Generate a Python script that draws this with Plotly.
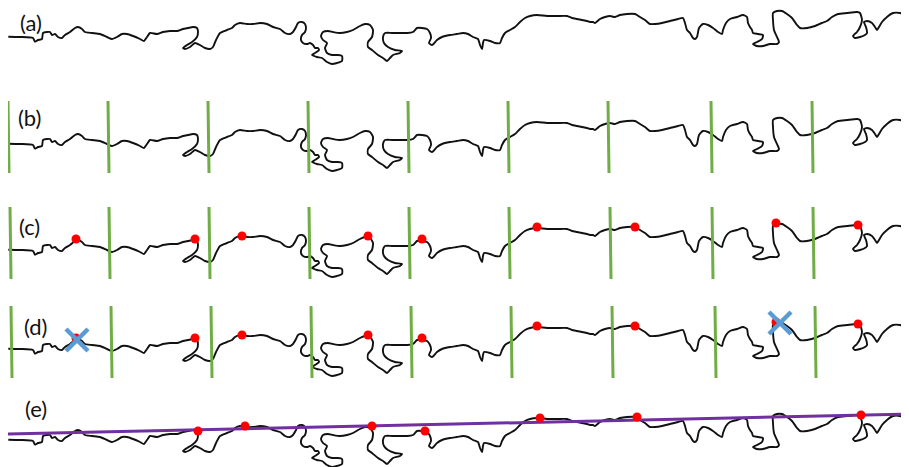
import plotly.graph_objects as go

# profile curve, traced in the coordinates of row (a) (pixels, y downwards)
curve_x = [8.3,20,33,35,38,42,43,47,50,52,55,58,62,65,70,75,78,82,85,92,100,107,112,117,122,127,133,140,144,147,150,157,163,170,177,183,188,193,197,198,197,192,187,183,185,190,195,200,205,210,213,216,220,227,232,235,240,247,253,260,267,273,280,285,290,293,296,298,302,305,306,305,302,301,303,307,310,313,315,318,319,315,312,317,322,327,332,337,342,342,338,332,327,325,327,323,321,323,328,333,340,347,353,360,365,370,373,372,368,368,372,378,383,387,390,393,400,402,395,388,384,383,385,392,400,407,413,417,422,427,430,431,429,432,437,442,450,457,463,468,473,478,480,482,483,484,490,495,500,502,505,510,515,520,525,530,537,547,557,567,572,577,582,587,590,593,595,600,605,610,615,620,627,635,640,645,650,655,662,670,678,683,685,687,690,693,695,697,699,703,708,713,718,722,723,726,730,737,743,747,748,750,752,753,758,763,762,757,753,757,763,770,777,779,777,774,773,773,777,782,787,792,797,800,807,815,822,827,832,838,847,857,860,862,860,857,853,855,860,865,867,866,864,867,872,875,877,879,882,887,893,900,905,909]
curve_y = [36.7,37,38,41.7,40,39,33,32,32,35,34,37,38,35,32,28,27,29,32,33,34,37,39,37,34,34,36,39,41,37,33,34,32,31,31,29,28,27,28,32,37,42,45,48,49,47,43,45,48,49,47,40,33,30,28,25,23,24,24,23,24,27,29,33,34,32,27,23,22,24,28,32,35,40,43,44,43,45,48,48,50,53,55,57,58,62,64,63,61,56,55,55,53,48,43,40,36,32,31,32,33,32,30,26,24,25,30,37,42,47,50,55,58,61,58,55,53,51,50,47,43,37,33,33,33,33,32,28,28,29,33,38,43,45,40,37,35,34,33,34,37,39,45,49,43,40,41,43,43,38,33,30,27,22,18,16,15,16,16,16,18,19,20,21,22,22,23,19,17,16,17,15,14,14,17,20,24,24,23,21,19,18,23,30,33,38,39,37,28,24,25,28,32,34,30,23,19,17,15,17,23,27,30,33,34,35,39,42,44,46,46,44,44,42,37,30,20,13,11,11,14,18,25,28,28,26,23,21,17,14,13,12,13,20,27,32,36,38,37,35,33,27,22,21,23,27,30,27,22,17,13,13,15,15]

row_labels = ["(a)", "(b)", "(c)", "(d)", "(e)"]
row_offsets = [0, 107, 213, 312, 403]
label_x = [18, 16, 17, 22, 23]
label_y = [22, 117, 226, 326, 408]

# green cut lines for rows (b), (c), (d)
green_x = {
    1: [8, 108, 208, 308, 408, 508, 608, 711, 812],
    2: [10, 109, 209, 309, 409, 509, 610, 712, 813],
    3: [11, 111, 211, 311, 411, 511, 612, 715, 815],
}

# local peaks (row-(a) coordinates)
peak_x = [76, 195, 242, 368, 422, 537, 635, 776, 858]
peak_y = [26, 26, 23, 23, 26, 14, 14, 10, 12]
rejected_x = [77, 780]
rejected_y = [28, 11]
kept_x = [198, 245, 372, 425, 540, 637, 861]
kept_y = [28, 23, 23, 28, 15, 14, 12]

# fitted line in row (e)
fit_x = [8, 909]
fit_y = [31, 11]

fig = go.Figure()

for i, off in enumerate(row_offsets):
    fig.add_trace(go.Scatter(x=curve_x, y=[v + off for v in curve_y], mode="lines",
                             line=dict(color="#111111", width=1.9, shape="spline", smoothing=0.6),
                             hoverinfo="skip", showlegend=False))

for row, xs in green_x.items():
    off = row_offsets[row]
    gx, gy = [], []
    for x in xs:
        gx += [x, x + 1, None]
        gy += [off - 6, off + 66, None]
    fig.add_trace(go.Scatter(x=gx, y=gy, mode="lines", line=dict(color="#70AD47", width=3),
                             hoverinfo="skip", showlegend=False))

# row (c) peaks
fig.add_trace(go.Scatter(x=peak_x, y=[v + row_offsets[2] for v in peak_y], mode="markers",
                         marker=dict(color="#FF0000", size=9), showlegend=False, hoverinfo="skip"))
# row (d) peaks + rejected crosses
fig.add_trace(go.Scatter(x=peak_x, y=[v + row_offsets[3] for v in peak_y], mode="markers",
                         marker=dict(color="#FF0000", size=9), showlegend=False, hoverinfo="skip"))
fig.add_trace(go.Scatter(x=rejected_x, y=[v + row_offsets[3] for v in rejected_y], mode="markers",
                         marker=dict(symbol="x-thin", size=22, line=dict(color="#5B9BD5", width=4.5)),
                         showlegend=False, hoverinfo="skip"))
# row (e) fit line + kept peaks
fig.add_trace(go.Scatter(x=fit_x, y=[v + row_offsets[4] for v in fit_y], mode="lines",
                         line=dict(color="#7030A0", width=3), showlegend=False, hoverinfo="skip"))
fig.add_trace(go.Scatter(x=kept_x, y=[v + row_offsets[4] for v in kept_y], mode="markers",
                         marker=dict(color="#FF0000", size=9), showlegend=False, hoverinfo="skip"))

for lab, lx, ly in zip(row_labels, label_x, label_y):
    fig.add_annotation(x=lx, y=ly, text=lab, showarrow=False, xanchor="left", yanchor="middle",
                       font=dict(family="Lato, Open Sans, sans-serif", size=22, color="#111111"))

# the page places the figure 8px in from the top-left corner, so the figure is
# 8px smaller and its ranges start at 8 to keep page pixels == data pixels
fig.update_layout(width=901, height=459, margin=dict(l=0, r=0, t=0, b=0),
                  paper_bgcolor="white", plot_bgcolor="white",
                  xaxis=dict(range=[8, 909], visible=False, fixedrange=True),
                  yaxis=dict(range=[467, 8], visible=False, fixedrange=True))

fig.write_html("out.html")
